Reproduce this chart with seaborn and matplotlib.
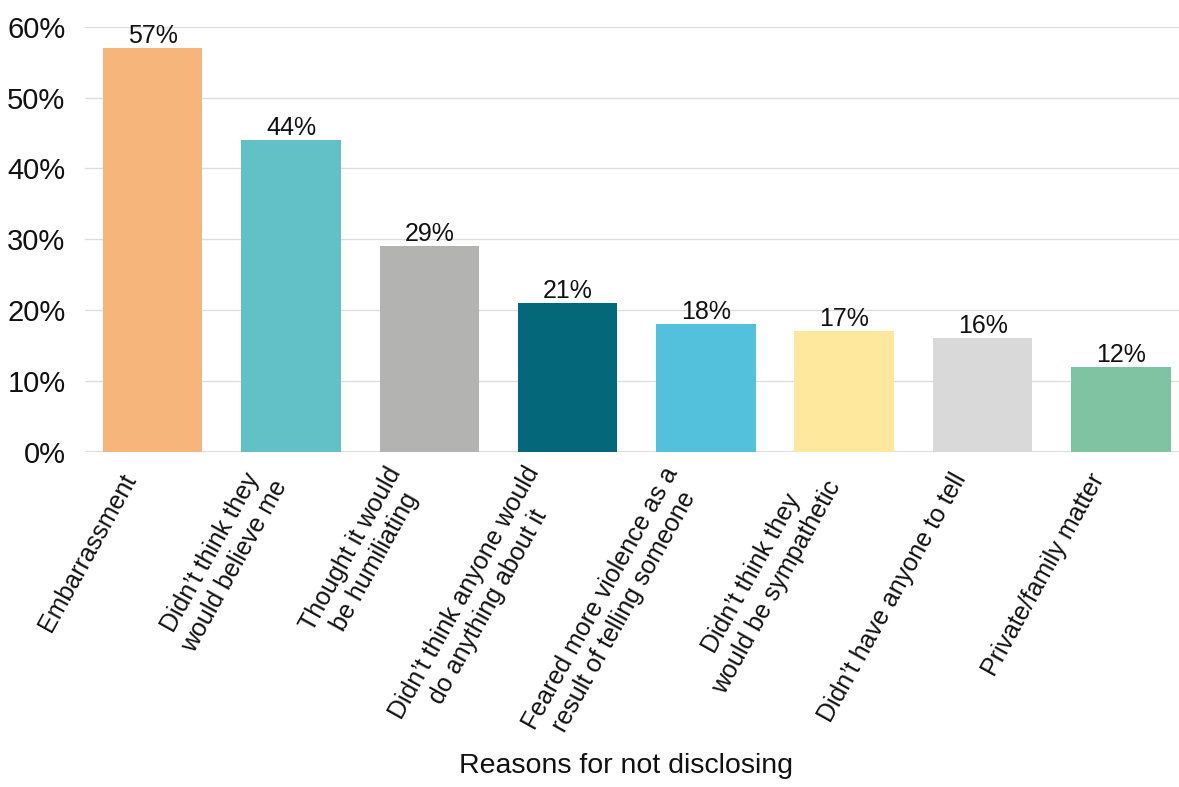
import pandas as pd
import seaborn as sns
import matplotlib.pyplot as plt
import matplotlib.transforms as mtrans

# 데이터
reasons = [
    "Embarrassment",
    "Didn\u2019t think they\nwould believe me",
    "Thought it would\nbe humiliating",
    "Didn\u2019t think anyone would\ndo anything about it",
    "Feared more violence as a\nresult of telling someone",
    "Didn\u2019t think they\nwould be sympathetic",
    "Didn\u2019t have anyone to tell",
    "Private/family matter",
]
percent = [57, 44, 29, 21, 18, 17, 16, 12]
colors = ["#F6B57B", "#62C1C6", "#B3B3B2", "#05687A",
          "#54C1DC", "#FEE89E", "#D9D9D9", "#80C3A2"]
y_ticks = [0, 10, 20, 30, 40, 50, 60]

df = pd.DataFrame({"reason": reasons, "percent": percent})

sns.set_theme(style="white")
plt.rcParams['font.family'] = ['Liberation Sans', 'DejaVu Sans']

fig, ax = plt.subplots(figsize=(11.79, 7.87), dpi=100)
fig.subplots_adjust(left=0.072, right=1.0, top=0.966, bottom=0.426)

sns.barplot(ax=ax, data=df, x="reason", y="percent", hue="reason",
            palette=colors, legend=False, width=0.72, saturation=1,
            linewidth=0)

# 막대 위 라벨
for c in ax.containers:
    ax.bar_label(c, fmt="%d%%", fontsize=18, padding=0, color="#111111")

ax.set_ylim(0, 60)
ax.set_xlim(-0.49, 7.42)
ax.set_yticks(y_ticks)
ax.set_yticklabels([f"{v}%" for v in y_ticks])
ax.yaxis.grid(True, color="#DDDDDD", linewidth=1)
ax.set_axisbelow(True)
sns.despine(ax=ax, left=True, bottom=True, top=True, right=True)
ax.axhline(0, color="#DDDDDD", linewidth=1.5, zorder=0.5)

ax.tick_params(axis="y", labelsize=21, length=0, pad=14, labelcolor="#111111")
ax.tick_params(axis="x", labelsize=18, length=0, pad=17, labelcolor="#111111")
shift = mtrans.ScaledTranslation(-0.22, 0, fig.dpi_scale_trans)
for lab in ax.get_xticklabels():
    lab.set_rotation(61)
    lab.set_ha("right")
    lab.set_va("center")
    lab.set_rotation_mode("anchor")
    lab.set_multialignment("center")
    lab.set_transform(lab.get_transform() + shift)

ax.set_ylabel("")
ax.set_xlabel("Reasons for not disclosing", fontsize=20.5, color="#111111")
ax.xaxis.set_label_coords(0.495, -0.71)

plt.savefig("out.png", dpi=100)
